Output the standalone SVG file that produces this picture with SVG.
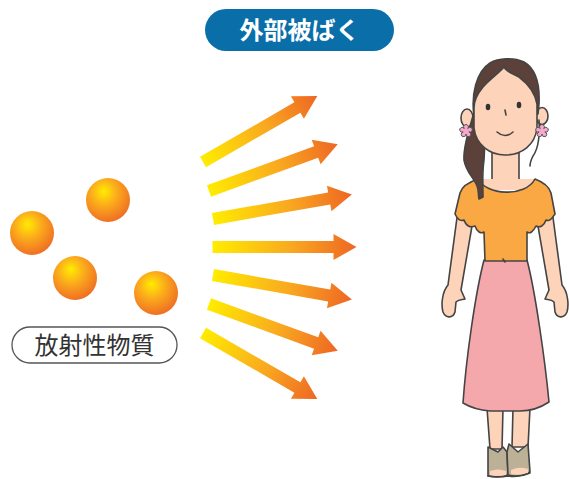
<svg xmlns="http://www.w3.org/2000/svg" width="569" height="479" viewBox="0 0 569 479">
  <style>
    .ln { stroke: #444; stroke-width: 1.6; stroke-linejoin: round; stroke-linecap: round; }
    .skin { fill: #fdd3b9; }
    .hair { fill: #5b4139; }
    .cjk { font-family: "Noto Sans CJK JP", "Noto Sans CJK SC", sans-serif; }
  </style>
  <defs>
    <radialGradient id="ball" cx="0.42" cy="0.36" r="0.68" fx="0.4" fy="0.3">
      <stop offset="0" stop-color="#ffec00"/>
      <stop offset="0.45" stop-color="#fbaa1c"/>
      <stop offset="1" stop-color="#ee6a24"/>
    </radialGradient>
    <linearGradient id="ray" x1="0" y1="0" x2="1" y2="0">
      <stop offset="0" stop-color="#ffec00"/>
      <stop offset="0.55" stop-color="#f9a820"/>
      <stop offset="1" stop-color="#ee6624"/>
    </linearGradient>
    <path id="flower" d="M-1.763,-2.427 A2.4,2.4 0 1 1 1.763,-2.427 A2.4,2.4 0 1 1 2.853,0.927 A2.4,2.4 0 1 1 0,3 A2.4,2.4 0 1 1 -2.853,0.927 A2.4,2.4 0 1 1 -1.763,-2.427 Z" fill="#f5a9cc" stroke="#555" stroke-width="1"/>
  </defs>

  <!-- heading -->
  <g id="title">
    <rect x="205" y="9" width="189" height="42" rx="21" fill="#0a6ea9"/>
    <text x="299.5" y="39" class="cjk" font-size="24" font-weight="bold" fill="#fff" text-anchor="middle">外部被ばく</text>
  </g>

  <!-- radioactive particles -->
  <g id="particles">
    <circle cx="108" cy="200" r="22" fill="url(#ball)"/>
    <circle cx="32" cy="233" r="22" fill="url(#ball)"/>
    <circle cx="75" cy="278" r="22" fill="url(#ball)"/>
    <circle cx="156" cy="293" r="22" fill="url(#ball)"/>
  </g>

  <g id="label">
    <rect x="12" y="327" width="165" height="36" rx="18" fill="#fff" stroke="#555" stroke-width="1.3"/>
    <text x="94.5" y="354" class="cjk" font-size="24" fill="#333" text-anchor="middle">放射性物質</text>
  </g>

  <!-- radiation rays -->
  <g id="connectors" fill="url(#ray)">
    <path transform="translate(203,162) rotate(-30)" d="M0,-6 H109 V-13 L132,0 L109,13 V6 H0 Z"/>
    <path transform="translate(209,191) rotate(-20)" d="M0,-6 H114 V-13 L137,0 L114,13 V6 H0 Z"/>
    <path transform="translate(213,219) rotate(-10)" d="M0,-6 H118 V-13 L141,0 L118,13 V6 H0 Z"/>
    <path transform="translate(212.5,247)" d="M0,-6 H121 V-13 L144,0 L121,13 V6 H0 Z"/>
    <path transform="translate(213,275) rotate(10)" d="M0,-6 H118 V-13 L141,0 L118,13 V6 H0 Z"/>
    <path transform="translate(209,304) rotate(20)" d="M0,-6 H114 V-13 L137,0 L114,13 V6 H0 Z"/>
    <path transform="translate(203,333) rotate(30)" d="M0,-6 H109 V-13 L132,0 L109,13 V6 H0 Z"/>
  </g>

  <!-- person -->
  <g id="person">
    <!-- legs -->
    <path class="skin ln" d="M487,408 L490,449 L502,449 L503,408 Z"/>
    <path class="skin ln" d="M513,408 L512,447 L528,447 L530,408 Z"/>
    <!-- shoes -->
    <path class="ln" fill="#bcb096" d="M488,447 L498,452 L503,447 L507,452 L508,475 Q498,478 488,476 Z"/>
    <path class="skin" d="M490,471 Q498,468 506,471 L506,475 Q498,477 490,475 Z"/>
    <path class="ln" fill="#bcb096" d="M509,444 L518,452 L528,444 L530,472 Q519,478 508,475 L507,452 Z"/>
    <path class="skin" d="M511,470 Q519,466 528,469 L528,473 Q519,476 511,474 Z"/>
    <path class="ln" fill="none" d="M488,476 Q498,478 508,476 M508,476 Q519,478 530,473"/>
    <!-- skirt -->
    <path class="ln" fill="#f5a8ab" d="M484,260 L527,260 C535,290 545,360 549,402 C540,408 530,411 520,411 L490,411 C478,410 468,406 463,403 C466,360 475,295 484,260 Z"/>
    <!-- arms -->
    <path class="skin ln" d="M458,210 L448,285 C442,292 441,305 443,312 C446,319 453,318 455,312 L456,302 C459,299 463,300 465,299 L461,290 L472,226 Z"/>
    <path class="skin ln" d="M552,210 L562,285 C568,292 569,305 567,312 C564,319 557,318 555,312 L554,302 C551,299 547,300 545,299 L549,290 L538,226 Z"/>
    <!-- neck -->
    <path class="skin ln" d="M492,148 L492,182 L519,182 L519,148 Z"/>
    <path class="skin" d="M476,179 L537,179 L537,190 L476,190 Z"/>
    <!-- blouse -->
    <path class="ln" fill="#f9a843" d="M478,179 C486,195 525,198 535,179 C543,182 549,186 551,193 L555,214 C552,218 550,222 546,220 C544,226 540,228 536,226 C533,232 530,234 527,232 L527,261 L485,261 L484,232 C481,234 477,232 475,226 C470,228 466,226 464,220 C460,222 457,218 455,214 L460,193 C462,186 469,182 478,179 Z"/>
    <path class="ln" fill="none" d="M503,259 L505,262"/>
    <!-- ears -->
    <ellipse class="skin ln" cx="467" cy="118" rx="6" ry="9"/>
    <ellipse class="skin ln" cx="542" cy="116" rx="6" ry="8.5"/>
    <!-- hair -->
    <path class="hair ln" d="M474,116 C471,95 476,72 490,63 C498,58 514,57 524,62 C536,69 540,84 539,104 L538,114 L474,116 Z"/>
    <path class="hair ln" d="M474,112 C470,128 463,145 464,160 C466,172 474,178 477,186 C479,190 478,195 479,199 L483,197 C483,185 482,172 484,160 L485,140 Z"/>
    <path class="ln" fill="none" stroke-width="2.2" d="M539,120 C540,132 539,148 533,156 C531,160 530,163 530,166"/>
    <!-- face -->
    <path class="skin ln" d="M474,108 L474,128 C476,145 490,155 505,155 C522,155 535,145 537,128 L537,104 C535,92 527,83 519,77 C512,73 506,72 504,67 C499,73 490,79 483,87 C478,93 474,100 474,108 Z"/>
    <!-- features -->
    <ellipse cx="488" cy="107" rx="2.3" ry="3.2" fill="#333"/>
    <ellipse cx="519" cy="105" rx="2.3" ry="3.2" fill="#333"/>
    <path class="ln" fill="none" stroke-width="1.3" d="M505,110 L506,115"/>
    <path class="ln" fill="none" d="M497,132 Q505,139 513,132"/>
    <!-- earrings -->
    <use href="#flower" transform="translate(466,131)"/>
    <use href="#flower" transform="translate(542,131)"/>
  </g>
</svg>
